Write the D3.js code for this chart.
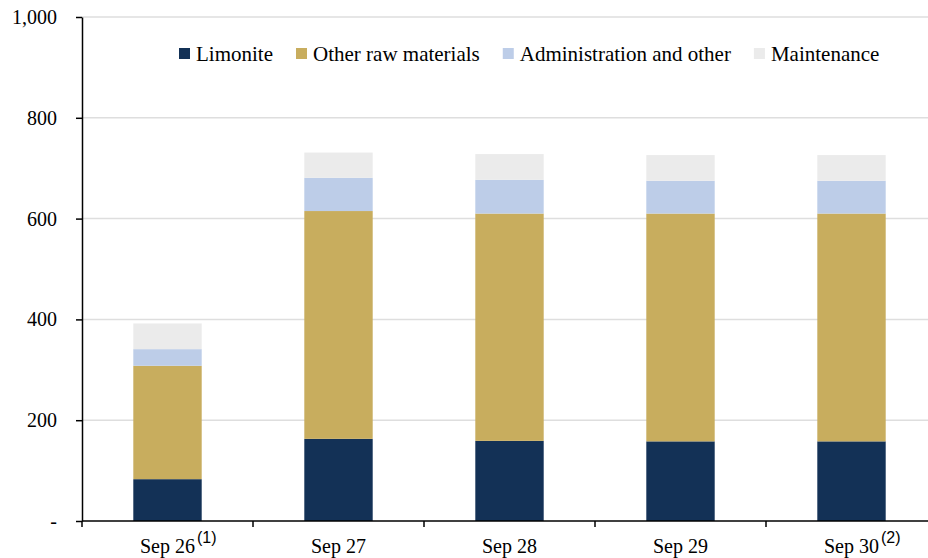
<!DOCTYPE html>
<html>
<head>
<meta charset="utf-8">
<script src="https://cdn.jsdelivr.net/npm/d3@7/dist/d3.min.js"></script>
<style>
  html, body { margin: 0; padding: 0; background: #fff; }
  svg { display: block; }
  .serif { font-family: "Liberation Serif", "Times New Roman", Tinos, "DejaVu Serif", serif; }
</style>
</head>
<body>
<svg id="chart" width="928" height="558"></svg>
<script>
// Categories and footnote markers shown on the x axis
const categories = ["Sep 26", "Sep 27", "Sep 28", "Sep 29", "Sep 30"];
const footnotes = ["(1)", "", "", "", "(2)"];

// Cost components, stacked bottom to top
const seriesNames = ["Limonite", "Other raw materials", "Administration and other", "Maintenance"];
const limonite = [83, 163, 159, 158, 158];
const otherRaw = [225, 452, 451, 452, 452];
const adminOther = [33, 66, 67, 65, 65];
const maintenance = [51, 50, 51, 51, 51];
const seriesColors = ["#133156", "#C8AD5E", "#BDCDE8", "#EBEBEB"];

const yTicks = [0, 200, 400, 600, 800, 1000];

const SERIF = '"Liberation Serif", "Times New Roman", Tinos, "DejaVu Serif", serif';

const svg = d3.select("#chart");
const W = 928, H = 558;

const x = d3.scaleBand()
  .domain(categories)
  .range([82, 937])
  .paddingInner(0.6)
  .paddingOuter(0.3);

const y = d3.scaleLinear().domain([0, 1000]).range([521, 17]);

// Table for the stack layout
const rows = categories.map((c, i) => ({
  cat: c,
  "Limonite": limonite[i],
  "Other raw materials": otherRaw[i],
  "Administration and other": adminOther[i],
  "Maintenance": maintenance[i]
}));
const stacked = d3.stack().keys(seriesNames)(rows);
const color = d3.scaleOrdinal().domain(seriesNames).range(seriesColors);

// Horizontal gridlines
svg.append("g")
  .selectAll("line")
  .data(yTicks.filter(d => d > 0))
  .join("line")
  .attr("x1", 82).attr("x2", W)
  .attr("y1", d => y(d)).attr("y2", d => y(d))
  .attr("stroke", "#DEDEDE")
  .attr("stroke-width", 1.5);

// Stacked bars
svg.append("g")
  .selectAll("g")
  .data(stacked)
  .join("g")
  .attr("fill", d => color(d.key))
  .selectAll("rect")
  .data(d => d)
  .join("rect")
  .attr("x", d => x(d.data.cat))
  .attr("width", x.bandwidth())
  .attr("y", d => y(d[1]))
  .attr("height", d => y(d[0]) - y(d[1]));

// Y axis
const yAxis = svg.append("g")
  .attr("transform", "translate(82,0)")
  .call(d3.axisLeft(y)
    .tickValues(yTicks)
    .tickFormat(d => d === 0 ? "-" : d3.format(",")(d))
    .tickSize(6)
    .tickSizeOuter(0)
    .tickPadding(19));
yAxis.attr("font-family", SERIF).attr("font-size", 20);
yAxis.select(".domain").attr("stroke", "#000").attr("stroke-width", 1.5);
yAxis.selectAll(".tick line").attr("stroke", "#000").attr("stroke-width", 1.5);
yAxis.selectAll(".tick text")
  .attr("class", "serif")
  .style("font-family", SERIF)
  .attr("font-size", 20)
  .attr("fill", "#000");

// X axis: baseline with ticks at category boundaries
const xAxis = svg.append("g");
xAxis.append("line")
  .attr("x1", 82).attr("x2", W)
  .attr("y1", y(0)).attr("y2", y(0))
  .attr("stroke", "#000").attr("stroke-width", 1.5);
const bounds = d3.range(categories.length + 1).map(i => x.range()[0] + i * x.step());
xAxis.selectAll("line.tk")
  .data(bounds)
  .join("line")
  .attr("class", "tk")
  .attr("x1", d => d).attr("x2", d => d)
  .attr("y1", y(0)).attr("y2", y(0) + 6)
  .attr("stroke", "#000").attr("stroke-width", 1.5);

categories.forEach((c, i) => {
  const cx = x(c) + x.bandwidth() / 2;
  const t = xAxis.append("text")
    .attr("class", "serif")
    .style("font-family", SERIF)
    .attr("x", cx)
    .attr("y", 553)
    .attr("text-anchor", "middle")
    .attr("font-size", 20)
    .attr("fill", "#000")
    .text(c);
  if (footnotes[i]) {
    const len = t.node().getComputedTextLength();
    xAxis.append("text")
      .style("font-family", '"Liberation Sans", Arial, sans-serif')
      .attr("x", cx + len / 2 + 2)
      .attr("y", 543)
      .attr("font-size", 16)
      .attr("fill", "#000")
      .text(footnotes[i]);
  }
});

// Legend
const legend = svg.append("g");
let lx = 179;
seriesNames.forEach((name, i) => {
  legend.append("rect")
    .attr("x", lx).attr("y", 48)
    .attr("width", 11).attr("height", 11)
    .attr("fill", seriesColors[i]);
  const t = legend.append("text")
    .attr("class", "serif")
    .style("font-family", SERIF)
    .attr("x", lx + 17).attr("y", 61)
    .attr("font-size", 21)
    .attr("fill", "#000")
    .text(name);
  lx += 17 + t.node().getComputedTextLength() + 23;
});
</script>
</body>
</html>
